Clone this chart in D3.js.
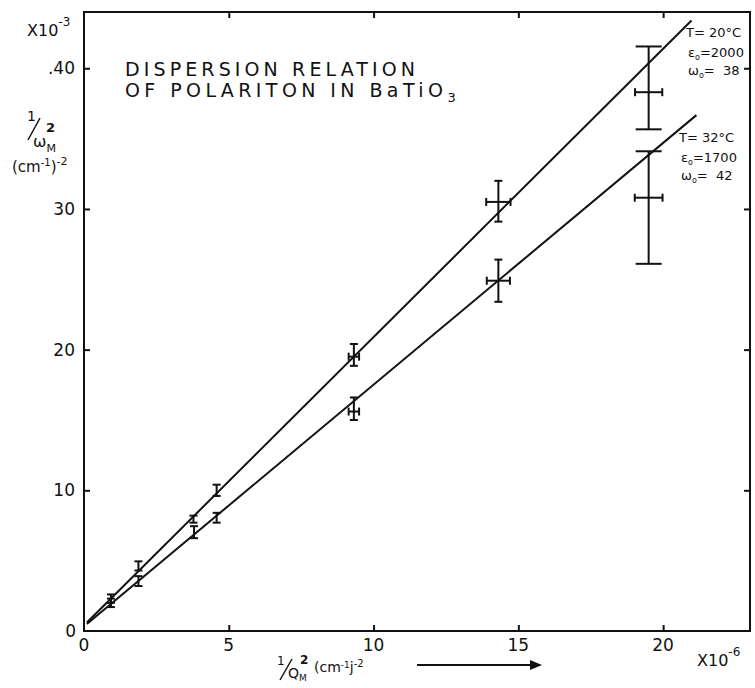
<!DOCTYPE html>
<html><head><meta charset="utf-8">
<script src="https://cdn.jsdelivr.net/npm/d3@7"></script>
<style>
html,body{margin:0;padding:0;background:#fff;}
svg{display:block;}
text{font-family:"DejaVu Sans",sans-serif;fill:#111;}
</style></head>
<body><svg id="c" width="755" height="688"></svg>
<script>
// ---- data ----
const xTicks = [0, 5, 10, 15, 20];
const yTicks = [10, 20, 30, 40];
const yTickLabels = ["10", "20", "30", ".40"];
// T = 20°C series
const upperX = [0.93, 1.88, 3.78, 4.58, 9.32, 14.31, 19.5];
const upperY = [2.35, 4.64, 8.0, 10.0, 19.5, 30.5, 38.3];
const upperYLo = [2.0, 4.3, 7.7, 9.6, 18.85, 29.1, 35.66];
const upperYHi = [2.6, 4.95, 8.2, 10.4, 20.4, 32.0, 41.55];
const upperXErr = [0, 0, 0, 0, 0.18, 0.42, 0.47];
// T = 32°C series
const lowerX = [0.93, 1.88, 3.80, 4.58, 9.32, 14.31, 19.5];
const lowerY = [2.0, 3.57, 7.0, 8.07, 15.6, 24.9, 30.8];
const lowerYLo = [1.7, 3.2, 6.6, 7.7, 15.0, 23.4, 26.1];
const lowerYHi = [2.3, 3.9, 7.45, 8.4, 16.6, 26.4, 34.1];
const lowerXErr = [0, 0, 0, 0, 0.18, 0.4, 0.48];
// fitted lines [x0,y0,x1,y1]
const upperLine = [0.1, 0.6, 20.98, 43.4];
const lowerLine = [0.1, 0.5, 21.15, 36.67];

const svg = d3.select("#c");
const x = d3.scaleLinear().domain([0, 23]).range([84, 750]);
const y = d3.scaleLinear().domain([0, 44]).range([631, 12]);

// frame
svg.append("rect").attr("x", x(0)).attr("y", y(44)).attr("width", x(23)-x(0)).attr("height", y(0)-y(44))
  .attr("fill", "none").attr("stroke", "#111").attr("stroke-width", 2);

// axes (inward ticks)
const gB = svg.append("g").attr("transform", `translate(0,${y(0)})`)
  .call(d3.axisTop(x).tickValues(xTicks.slice(1)).tickSize(6).tickFormat(""));
const gT = svg.append("g").attr("transform", `translate(0,${y(44)})`)
  .call(d3.axisBottom(x).tickValues(xTicks.slice(1)).tickSize(6).tickFormat(""));
const gL = svg.append("g").attr("transform", `translate(${x(0)},0)`)
  .call(d3.axisRight(y).tickValues(yTicks).tickSize(6).tickFormat(""));
const gR = svg.append("g").attr("transform", `translate(${x(23)},0)`)
  .call(d3.axisLeft(y).tickValues(yTicks).tickSize(6).tickFormat(""));
[gB, gT, gL, gR].forEach(g => {
  g.select(".domain").remove();
  g.selectAll("line").attr("stroke", "#111").attr("stroke-width", 2);
});

// tick labels
svg.append("g").selectAll("text").data(xTicks).join("text")
  .attr("x", d => x(d)).attr("y", 651).attr("text-anchor", "middle")
  .attr("font-size", 17).text(d => d);
svg.append("g").selectAll("text").data(yTicks).join("text")
  .attr("x", 75).attr("y", d => y(d) + 6).attr("text-anchor", "end")
  .attr("font-size", 17).text((d, i) => yTickLabels[i]);
svg.append("text").attr("x", 76).attr("y", y(0) + 6).attr("text-anchor", "end").attr("font-size", 17).text("0");

// exponent labels
const e1 = svg.append("text").attr("x", 27).attr("y", 36).attr("font-size", 16);
e1.append("tspan").text("X10");
e1.append("tspan").attr("dy", -10).attr("font-size", 12).text("-3");
const e2 = svg.append("text").attr("x", 697).attr("y", 666).attr("font-size", 16);
e2.append("tspan").text("X10");
e2.append("tspan").attr("dy", -10).attr("font-size", 12).text("-6");

// y axis title
svg.append("line").attr("x1", 28).attr("y1", 140).attr("x2", 40).attr("y2", 118).attr("stroke", "#111").attr("stroke-width", 1.5);
const yt = svg.append("text").attr("font-size", 16);
yt.append("tspan").attr("x", 27).attr("y", 121).attr("font-size", 14).text("1");
yt.append("tspan").attr("x", 33).attr("y", 147).text("ω");
yt.append("tspan").attr("dy", 5).attr("font-size", 11).text("M");
yt.append("tspan").attr("x", 46).attr("y", 132).attr("font-size", 13).attr("font-weight", "bold").text("2");
const yu = svg.append("text").attr("x", 12).attr("y", 172).attr("font-size", 15);
yu.append("tspan").text("(cm");
yu.append("tspan").attr("dy", -6).attr("font-size", 10).text("-1");
yu.append("tspan").attr("dy", 6).text(")");
yu.append("tspan").attr("dy", -7).attr("font-size", 11).text("-2");

// x axis title
svg.append("line").attr("x1", 280).attr("y1", 680).attr("x2", 292).attr("y2", 659).attr("stroke", "#111").attr("stroke-width", 1.5);
const xt = svg.append("text").attr("font-size", 14);
xt.append("tspan").attr("x", 277).attr("y", 665).attr("font-size", 12).text("1");
xt.append("tspan").attr("x", 288).attr("y", 678).text("Q");
xt.append("tspan").attr("dy", 3).attr("font-size", 9).text("M");
xt.append("tspan").attr("x", 300).attr("y", 664).attr("font-size", 12).attr("font-weight", "bold").text("2");
const xu = svg.append("text").attr("x", 314).attr("y", 672).attr("font-size", 14);
xu.append("tspan").text("(cm");
xu.append("tspan").attr("dy", -4).attr("font-size", 9).text("-1");
xu.append("tspan").attr("dy", 4).text("j");
xu.append("tspan").attr("dy", -5).attr("font-size", 10).text("-2");
svg.append("line").attr("x1", 417).attr("y1", 665).attr("x2", 540).attr("y2", 665).attr("stroke", "#111").attr("stroke-width", 2);
svg.append("path").attr("d", "M530,660 L542,665 L530,670 Z").attr("fill", "#111");

// title
svg.append("text").attr("x", 125).attr("y", 76).attr("font-size", 19).attr("textLength", 290)
  .attr("lengthAdjust", "spacing").text("DISPERSION   RELATION");
const t2 = svg.append("text").attr("x", 125).attr("y", 97).attr("font-size", 19);
t2.append("tspan").attr("textLength", 318).attr("lengthAdjust", "spacing").text("OF POLARITON  IN  BaTiO");
t2.append("tspan").attr("dy", 5).attr("font-size", 13).text("3");

// fitted lines
const line = d3.line().x(d => x(d[0])).y(d => y(d[1]));
[upperLine, lowerLine].forEach(L => {
  svg.append("path").attr("d", line([[L[0], L[1]], [L[2], L[3]]]))
    .attr("fill", "none").attr("stroke", "#111").attr("stroke-width", 2);
});

// error bars
function drawErr(xs, ys, lo, hi, xe) {
  const g = svg.append("g").attr("stroke", "#111").attr("stroke-width", 2).attr("fill", "none");
  xs.forEach((xv, i) => {
    const big = (hi[i] - lo[i]) > 4;
    const cw = big ? 13 : 4;
    g.append("line").attr("x1", x(xv)).attr("x2", x(xv)).attr("y1", y(lo[i])).attr("y2", y(hi[i]));
    g.append("line").attr("x1", x(xv) - cw).attr("x2", x(xv) + cw).attr("y1", y(lo[i])).attr("y2", y(lo[i]));
    g.append("line").attr("x1", x(xv) - cw).attr("x2", x(xv) + cw).attr("y1", y(hi[i])).attr("y2", y(hi[i]));
    if (xe[i] > 0) {
      const ch = 4;
      g.append("line").attr("x1", x(xv - xe[i])).attr("x2", x(xv + xe[i])).attr("y1", y(ys[i])).attr("y2", y(ys[i]));
      g.append("line").attr("x1", x(xv - xe[i])).attr("x2", x(xv - xe[i])).attr("y1", y(ys[i]) - ch).attr("y2", y(ys[i]) + ch);
      g.append("line").attr("x1", x(xv + xe[i])).attr("x2", x(xv + xe[i])).attr("y1", y(ys[i]) - ch).attr("y2", y(ys[i]) + ch);
    }
  });
}
drawErr(upperX, upperY, upperYLo, upperYHi, upperXErr);
drawErr(lowerX, lowerY, lowerYLo, lowerYHi, lowerXErr);

// annotations
function annot(x0, y0, T, eps, w) {
  const g = svg.append("g").attr("font-size", 13);
  g.append("text").attr("x", x0).attr("y", y0).text(T);
  const a = g.append("text").attr("x", x0 + 2).attr("y", y0 + 20);
  a.append("tspan").text("ε");
  a.append("tspan").attr("dy", 3).attr("font-size", 8).text("o");
  a.append("tspan").attr("dy", -3).text("=" + eps);
  const b = g.append("text").attr("x", x0 + 2).attr("y", y0 + 38);
  b.append("tspan").text("ω");
  b.append("tspan").attr("dy", 3).attr("font-size", 8).text("o");
  b.append("tspan").attr("dy", -3).attr("xml:space", "preserve").text("=  " + w);
}
annot(686, 37, "T= 20°C", "2000", "38");
annot(679, 142, "T= 32°C", "1700", "42");
</script></body></html>
